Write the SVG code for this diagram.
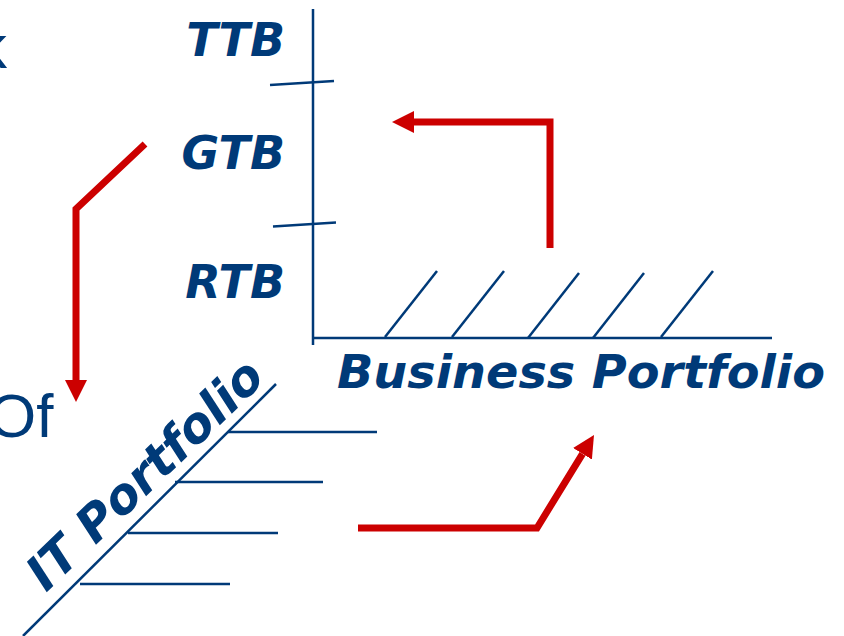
<svg xmlns="http://www.w3.org/2000/svg" width="844" height="636" viewBox="0 0 844 636">
  <defs>
    <style>
      .ax { stroke: #003a78; stroke-width: 2.5; fill: none; stroke-linecap: butt; }
      .lbl { font-family: "DejaVu Sans", Verdana, sans-serif; font-weight: bold; font-style: italic; font-size: 46px; fill: #003a78; }
      .reg { font-family: "Liberation Sans", Arial, sans-serif; font-size: 62px; fill: #003a78; }
      .red { stroke: #cc0000; stroke-width: 7; fill: none; stroke-linejoin: miter; stroke-linecap: butt; }
    </style>
    <marker id="ah" markerUnits="userSpaceOnUse" markerWidth="22" markerHeight="22" refX="0" refY="11" orient="auto" viewBox="0 0 22 22">
      <path d="M0,0 L22,11 L0,22 z" fill="#cc0000"/>
    </marker>
  </defs>
  <rect width="844" height="636" fill="#ffffff"/>

  <g id="edge-text">
    <text class="reg" x="-24" y="68">k</text>
    <text class="reg" x="-12" y="437">Of</text>
  </g>

  <g id="business-axis">
    <line class="ax" x1="313" y1="9" x2="313" y2="345"/>
    <line class="ax" x1="312" y1="338" x2="772" y2="338"/>
    <line class="ax" x1="270" y1="85" x2="334" y2="81"/>
    <line class="ax" x1="273" y1="226.5" x2="336" y2="222.5"/>
    <line class="ax" x1="385" y1="337" x2="437" y2="271"/>
    <line class="ax" x1="452" y1="337" x2="504" y2="271"/>
    <line class="ax" x1="528" y1="338" x2="579" y2="273"/>
    <line class="ax" x1="593" y1="338" x2="644" y2="273"/>
    <line class="ax" x1="661" y1="337" x2="713" y2="271"/>
  </g>

  <g id="label-ttb"><text class="lbl" x="285" y="56" text-anchor="end">TTB</text></g>
  <g id="label-gtb"><text class="lbl" x="285" y="169" text-anchor="end">GTB</text></g>
  <g id="label-rtb"><text class="lbl" x="285" y="298" text-anchor="end">RTB</text></g>
  <g id="label-business"><text class="lbl" x="337" y="388" textLength="488" lengthAdjust="spacingAndGlyphs">Business Portfolio</text></g>

  <g id="it-axis">
    <line class="ax" x1="23" y1="636" x2="276" y2="384"/>
    <line class="ax" x1="228" y1="432" x2="377" y2="432"/>
    <line class="ax" x1="175" y1="482" x2="323" y2="482"/>
    <line class="ax" x1="128" y1="533" x2="278" y2="533"/>
    <line class="ax" x1="80" y1="584" x2="230" y2="584"/>
  </g>
  <g id="label-it"><text class="lbl" style="font-size:49px" transform="translate(46,593) rotate(-44)" x="0" y="0" textLength="307" lengthAdjust="spacingAndGlyphs">IT Portfolio</text></g>

  <g id="connectors">
    <polyline class="red" points="145,144 76,209 76,380" marker-end="url(#ah)"/>
    <polyline class="red" points="550,248 550,122 414,122" marker-end="url(#ah)"/>
    <polyline class="red" points="358,528 537,528 582.5,453.8" marker-end="url(#ah)"/>
  </g>
</svg>
